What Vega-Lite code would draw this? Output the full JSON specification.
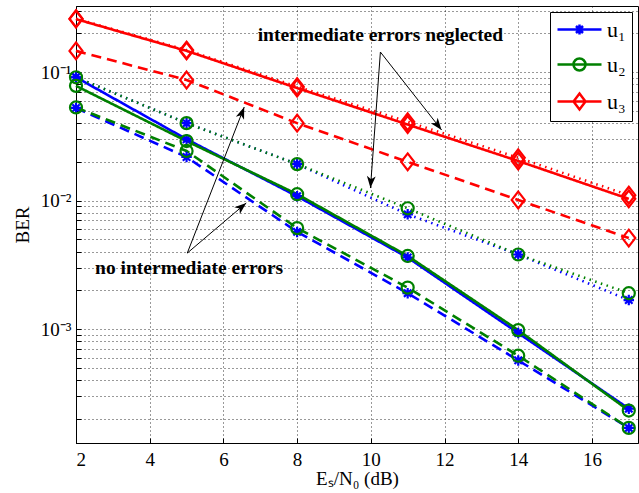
{
  "$schema": "https://vega.github.io/schema/vega-lite/v6.json",
  "width": 562,
  "height": 437,
  "autosize": {"type": "none"},
  "padding": {"left": 76, "top": 6, "right": 1, "bottom": 50},
  "background": "white",
  "config": {
    "font": "Liberation Serif",
    "view": {"stroke": "#000", "strokeWidth": 1},
    "axis": {
      "domainColor": "#000",
      "tickColor": "#000",
      "labelColor": "#000",
      "titleColor": "#000",
      "labelFont": "Liberation Serif",
      "titleFont": "Liberation Serif",
      "labelFontSize": 19,
      "titleFontSize": 19,
      "titleFontWeight": "normal",
      "grid": true,
      "gridDash": [1, 3],
      "gridColor": "#000",
      "gridOpacity": 0.8,
      "tickSize": -5
    }
  },
  "datasets": {
    "ber": [
      {"snr": 2, "ber": 0.091, "user": "u₁", "scheme": "simulated"},
      {"snr": 5, "ber": 0.030, "user": "u₁", "scheme": "simulated"},
      {"snr": 8, "ber": 0.0108, "user": "u₁", "scheme": "simulated"},
      {"snr": 11, "ber": 0.0036, "user": "u₁", "scheme": "simulated"},
      {"snr": 14, "ber": 0.00093, "user": "u₁", "scheme": "simulated"},
      {"snr": 17, "ber": 0.00024, "user": "u₁", "scheme": "simulated"},
      {"snr": 2, "ber": 0.0525, "user": "u₁", "scheme": "no intermediate errors"},
      {"snr": 5, "ber": 0.0218, "user": "u₁", "scheme": "no intermediate errors"},
      {"snr": 8, "ber": 0.0057, "user": "u₁", "scheme": "no intermediate errors"},
      {"snr": 11, "ber": 0.0019, "user": "u₁", "scheme": "no intermediate errors"},
      {"snr": 14, "ber": 0.00057, "user": "u₁", "scheme": "no intermediate errors"},
      {"snr": 17, "ber": 0.00017, "user": "u₁", "scheme": "no intermediate errors"},
      {"snr": 2, "ber": 0.091, "user": "u₁", "scheme": "intermediate errors neglected"},
      {"snr": 5, "ber": 0.040, "user": "u₁", "scheme": "intermediate errors neglected"},
      {"snr": 8, "ber": 0.0192, "user": "u₁", "scheme": "intermediate errors neglected"},
      {"snr": 11, "ber": 0.0078, "user": "u₁", "scheme": "intermediate errors neglected"},
      {"snr": 14, "ber": 0.0038, "user": "u₁", "scheme": "intermediate errors neglected"},
      {"snr": 17, "ber": 0.00168, "user": "u₁", "scheme": "intermediate errors neglected"},
      {"snr": 2, "ber": 0.078, "user": "u₂", "scheme": "simulated"},
      {"snr": 5, "ber": 0.029, "user": "u₂", "scheme": "simulated"},
      {"snr": 8, "ber": 0.0112, "user": "u₂", "scheme": "simulated"},
      {"snr": 11, "ber": 0.0037, "user": "u₂", "scheme": "simulated"},
      {"snr": 14, "ber": 0.00098, "user": "u₂", "scheme": "simulated"},
      {"snr": 17, "ber": 0.000232, "user": "u₂", "scheme": "simulated"},
      {"snr": 2, "ber": 0.053, "user": "u₂", "scheme": "no intermediate errors"},
      {"snr": 5, "ber": 0.0243, "user": "u₂", "scheme": "no intermediate errors"},
      {"snr": 8, "ber": 0.0061, "user": "u₂", "scheme": "no intermediate errors"},
      {"snr": 11, "ber": 0.0021, "user": "u₂", "scheme": "no intermediate errors"},
      {"snr": 14, "ber": 0.00062, "user": "u₂", "scheme": "no intermediate errors"},
      {"snr": 17, "ber": 0.00017, "user": "u₂", "scheme": "no intermediate errors"},
      {"snr": 2, "ber": 0.091, "user": "u₂", "scheme": "intermediate errors neglected"},
      {"snr": 5, "ber": 0.040, "user": "u₂", "scheme": "intermediate errors neglected"},
      {"snr": 8, "ber": 0.0192, "user": "u₂", "scheme": "intermediate errors neglected"},
      {"snr": 11, "ber": 0.0087, "user": "u₂", "scheme": "intermediate errors neglected"},
      {"snr": 14, "ber": 0.0038, "user": "u₂", "scheme": "intermediate errors neglected"},
      {"snr": 17, "ber": 0.0019, "user": "u₂", "scheme": "intermediate errors neglected"},
      {"snr": 2, "ber": 0.258, "user": "u₃", "scheme": "simulated"},
      {"snr": 5, "ber": 0.146, "user": "u₃", "scheme": "simulated"},
      {"snr": 8, "ber": 0.075, "user": "u₃", "scheme": "simulated"},
      {"snr": 11, "ber": 0.039, "user": "u₃", "scheme": "simulated"},
      {"snr": 14, "ber": 0.0203, "user": "u₃", "scheme": "simulated"},
      {"snr": 17, "ber": 0.0103, "user": "u₃", "scheme": "simulated"},
      {"snr": 2, "ber": 0.146, "user": "u₃", "scheme": "no intermediate errors"},
      {"snr": 5, "ber": 0.0867, "user": "u₃", "scheme": "no intermediate errors"},
      {"snr": 8, "ber": 0.040, "user": "u₃", "scheme": "no intermediate errors"},
      {"snr": 11, "ber": 0.020, "user": "u₃", "scheme": "no intermediate errors"},
      {"snr": 14, "ber": 0.0101, "user": "u₃", "scheme": "no intermediate errors"},
      {"snr": 17, "ber": 0.0051, "user": "u₃", "scheme": "no intermediate errors"},
      {"snr": 2, "ber": 0.26, "user": "u₃", "scheme": "intermediate errors neglected"},
      {"snr": 5, "ber": 0.148, "user": "u₃", "scheme": "intermediate errors neglected"},
      {"snr": 8, "ber": 0.077, "user": "u₃", "scheme": "intermediate errors neglected"},
      {"snr": 11, "ber": 0.041, "user": "u₃", "scheme": "intermediate errors neglected"},
      {"snr": 14, "ber": 0.0215, "user": "u₃", "scheme": "intermediate errors neglected"},
      {"snr": 17, "ber": 0.011, "user": "u₃", "scheme": "intermediate errors neglected"}
    ],
    "arrows": [
      {"id": "a1", "x": 5.02, "y": 0.0039, "x2": 6.565, "y2": 0.0534},
      {"id": "a2", "x": 5.02, "y": 0.0039, "x2": 6.62, "y2": 0.00957},
      {"id": "a3", "x": 10.26, "y": 0.143, "x2": 11.92, "y2": 0.0354},
      {"id": "a4", "x": 10.26, "y": 0.143, "x2": 9.99, "y2": 0.0125}
    ],
    "notes": [
      {"x": 10.26, "y": 0.194, "text": "intermediate errors neglected"},
      {"x": 5.07, "y": 0.00299, "text": "no intermediate errors"}
    ]
  },
  "layer": [
    {
      "data": {"name": "ber"},
      "mark": {"type": "line", "strokeWidth": 2.6},
      "encoding": {
        "x": {
          "field": "snr", "type": "quantitative",
          "scale": {"domain": [2, 17.25], "nice": false, "zero": false},
          "axis": {"values": [2, 4, 6, 8, 10, 12, 14, 16], "title": "Eₛ/N₀ (dB)", "labelPadding": 12, "titlePadding": 0}
        },
        "y": {
          "field": "ber", "type": "quantitative",
          "scale": {"type": "log", "domain": [0.0001297, 0.3263], "nice": false},
          "axis": {
            "values": [0.0002, 0.0003, 0.0004, 0.0005, 0.0006, 0.0007, 0.0008, 0.0009, 0.001, 0.002, 0.003, 0.004, 0.005, 0.006, 0.007, 0.008, 0.009, 0.01, 0.02, 0.03, 0.04, 0.05, 0.06, 0.07, 0.08, 0.09, 0.1, 0.2, 0.3],
            "labelExpr": "datum.value == 0.1 ? '10⁻¹' : datum.value == 0.01 ? '10⁻²' : datum.value == 0.001 ? '10⁻³' : ''",
            "title": "BER", "labelPadding": 10, "titlePadding": 8
          }
        },
        "color": {
          "field": "user", "type": "nominal",
          "scale": {"domain": ["u₁", "u₂", "u₃"], "range": ["#0000ff", "#008000", "#ff0000"]}
        },
        "strokeDash": {
          "field": "scheme", "type": "nominal",
          "scale": {"domain": ["simulated", "no intermediate errors", "intermediate errors neglected"], "range": [[1, 0], [10, 6], [1.5, 4.5]]},
          "legend": null
        }
      }
    },
    {
      "data": {"name": "ber"},
      "transform": [{"filter": "datum.user == 'u₁'"}],
      "mark": {"type": "point", "filled": false, "strokeWidth": 2.2, "size": 196, "opacity": 1, "color": "#0000ff",
               "shape": "M0,-0.75L0,0.75M-0.75,0L0.75,0M-0.53,-0.53L0.53,0.53M-0.53,0.53L0.53,-0.53"},
      "encoding": {
        "x": {"field": "snr", "type": "quantitative"},
        "y": {"field": "ber", "type": "quantitative"}
      }
    },
    {
      "data": {"name": "ber"},
      "transform": [{"filter": "datum.user == 'u₂'"}],
      "mark": {"type": "point", "filled": false, "strokeWidth": 2.2, "size": 196, "opacity": 1, "color": "#008000",
               "shape": "M-0.86,0A0.86,0.86 0 1,1 0.86,0A0.86,0.86 0 1,1 -0.86,0Z"},
      "encoding": {
        "x": {"field": "snr", "type": "quantitative"},
        "y": {"field": "ber", "type": "quantitative"}
      }
    },
    {
      "data": {"name": "ber"},
      "transform": [{"filter": "datum.user == 'u₃'"}],
      "mark": {"type": "point", "filled": false, "strokeWidth": 2.2, "size": 196, "opacity": 1, "color": "#ff0000",
               "shape": "M0,-1.2L0.93,0L0,1.2L-0.93,0Z"},
      "encoding": {
        "x": {"field": "snr", "type": "quantitative"},
        "y": {"field": "ber", "type": "quantitative"}
      }
    },
    {
      "data": {"name": "ber"},
      "transform": [{"filter": "false"}],
      "mark": {"type": "point", "filled": false, "strokeWidth": 2.5, "size": 400, "opacity": 1},
      "encoding": {
        "x": {"field": "snr", "type": "quantitative"},
        "y": {"field": "ber", "type": "quantitative"},
        "color": {
          "field": "user", "type": "nominal",
          "legend": {
            "title": null,
            "orient": "top-right",
            "offset": 6,
            "fillColor": "white",
            "strokeColor": "black",
            "padding": 6,
            "labelFont": "Liberation Serif",
            "labelFontSize": 22,
            "labelColor": "#000",
            "labelOffset": 16,
            "symbolOffset": 12,
            "symbolSize": 400,
            "symbolStrokeWidth": 2.5,
            "symbolDash": [],
            "rowPadding": 12
          }
        },
        "shape": {
          "field": "user", "type": "nominal",
          "scale": {
            "domain": ["u₁", "u₂", "u₃"],
            "range": [
              "M-2.2,0L2.2,0M0,-0.5L0,0.5M-0.5,0L0.5,0M-0.35,-0.35L0.35,0.35M-0.35,0.35L0.35,-0.35",
              "M-2.2,0L2.2,0M-0.6,0A0.6,0.6 0 1,1 0.6,0A0.6,0.6 0 1,1 -0.6,0Z",
              "M-2.2,0L2.2,0M0,-0.8L0.6,0L0,0.8L-0.6,0Z"
            ]
          }
        }
      }
    },
    {
      "data": {"name": "arrows"},
      "mark": {"type": "rule", "color": "#000", "strokeWidth": 1},
      "encoding": {
        "x": {"field": "x", "type": "quantitative"},
        "y": {"field": "y", "type": "quantitative"},
        "x2": {"field": "x2"},
        "y2": {"field": "y2"}
      }
    },
    {
      "data": {"name": "arrows"},
      "transform": [{"filter": "datum.id == 'a1'"}],
      "mark": {"type": "point", "shape": "M0,0L-1.1,3L0,2.2L1.1,3Z", "size": 64, "filled": true, "color": "#000", "angle": 21, "opacity": 1},
      "encoding": {"x": {"field": "x2", "type": "quantitative"}, "y": {"field": "y2", "type": "quantitative"}}
    },
    {
      "data": {"name": "arrows"},
      "transform": [{"filter": "datum.id == 'a2'"}],
      "mark": {"type": "point", "shape": "M0,0L-1.1,3L0,2.2L1.1,3Z", "size": 64, "filled": true, "color": "#000", "angle": 50, "opacity": 1},
      "encoding": {"x": {"field": "x2", "type": "quantitative"}, "y": {"field": "y2", "type": "quantitative"}}
    },
    {
      "data": {"name": "arrows"},
      "transform": [{"filter": "datum.id == 'a3'"}],
      "mark": {"type": "point", "shape": "M0,0L-1.1,3L0,2.2L1.1,3Z", "size": 64, "filled": true, "color": "#000", "angle": 142, "opacity": 1},
      "encoding": {"x": {"field": "x2", "type": "quantitative"}, "y": {"field": "y2", "type": "quantitative"}}
    },
    {
      "data": {"name": "arrows"},
      "transform": [{"filter": "datum.id == 'a4'"}],
      "mark": {"type": "point", "shape": "M0,0L-1.1,3L0,2.2L1.1,3Z", "size": 64, "filled": true, "color": "#000", "angle": 184, "opacity": 1},
      "encoding": {"x": {"field": "x2", "type": "quantitative"}, "y": {"field": "y2", "type": "quantitative"}}
    },
    {
      "data": {"name": "notes"},
      "mark": {"type": "text", "font": "Liberation Serif", "fontWeight": "bold", "fontSize": 19.5, "align": "center", "baseline": "middle", "color": "#000"},
      "encoding": {
        "x": {"field": "x", "type": "quantitative"},
        "y": {"field": "y", "type": "quantitative"},
        "text": {"field": "text"}
      }
    }
  ]
}
